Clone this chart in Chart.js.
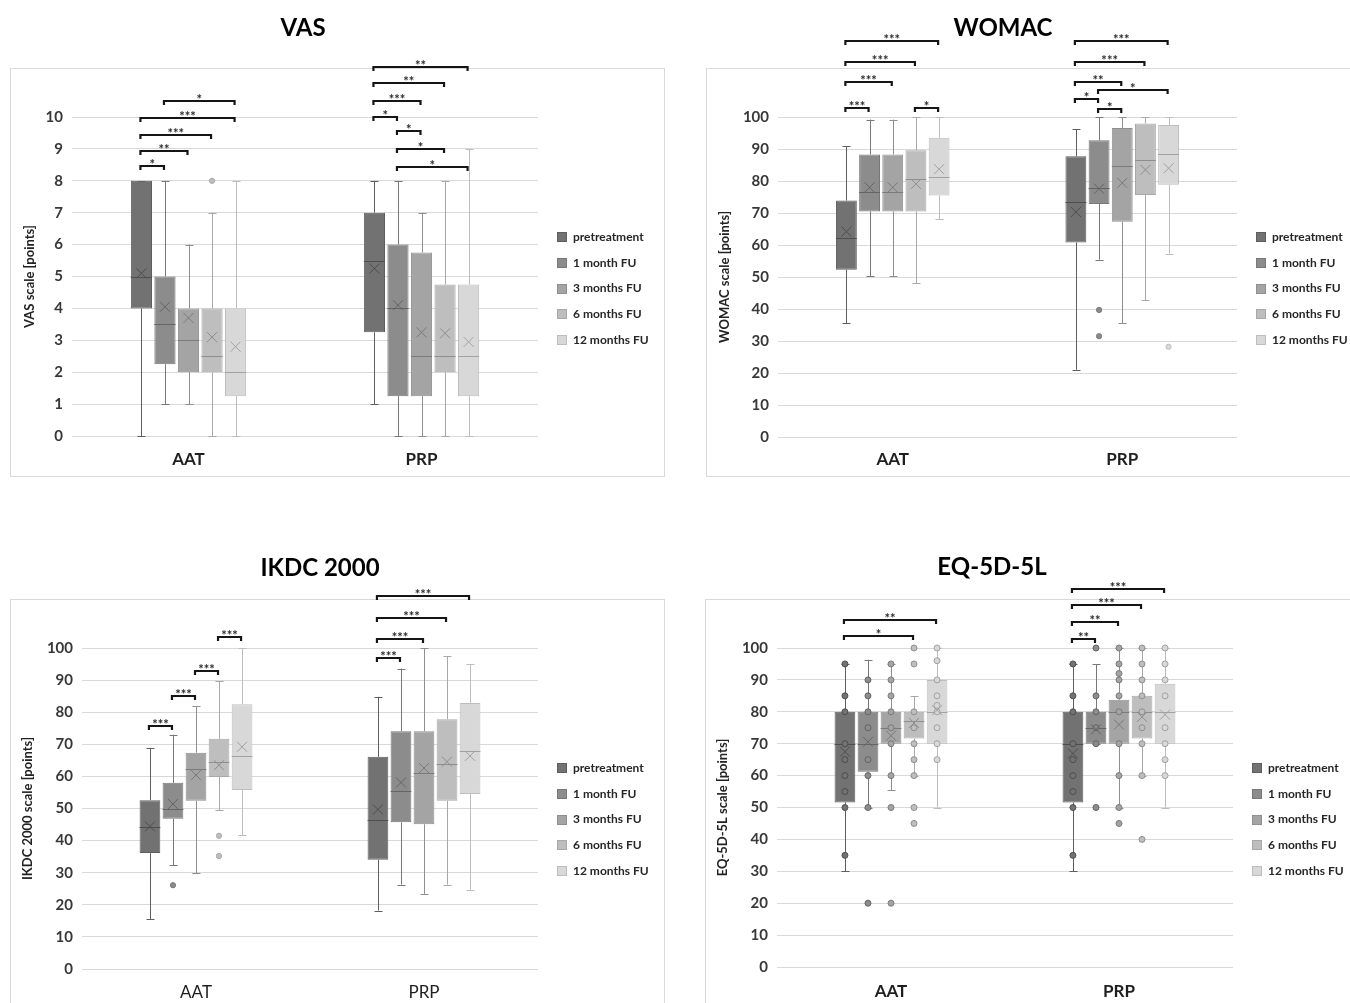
<!DOCTYPE html>
<html><head><meta charset="utf-8">
<script src="https://cdn.jsdelivr.net/npm/chart.js@4.4.1/dist/chart.umd.min.js"></script>
<style>
body{margin:0;background:#fff;width:1350px;height:1003px;overflow:hidden;position:relative;font-family:Lato,sans-serif}
.frame{position:absolute;border:1px solid #d9d9d9;box-sizing:border-box}
canvas{position:absolute}
</style></head><body>
<div class="frame" style="left:10px;top:68px;width:655px;height:409px"></div>
<div class="frame" style="left:706px;top:68px;width:700px;height:409px"></div>
<div class="frame" style="left:10px;top:599px;width:655px;height:500px"></div>
<div class="frame" style="left:705px;top:599px;width:700px;height:500px"></div>
<canvas id="c1" width="675" height="490" style="left:0;top:0"></canvas>
<canvas id="c2" width="675" height="490" style="left:675px;top:0"></canvas>
<canvas id="c3" width="675" height="473" style="left:0;top:530px"></canvas>
<canvas id="c4" width="675" height="473" style="left:675px;top:530px"></canvas>
<script>
const groups = ['AAT', 'PRP'];
const seriesNames = ['pretreatment', '1 month FU', '3 months FU', '6 months FU', '12 months FU'];

// rows per series: [min, Q1, median, Q3, max, mean]
const vasAAT = [[0,4,5,8,8,5.1],[1,2.25,3.5,5,8,4.05],[1,2,3,4,6,3.7],[0,2,2.5,4,7,3.1],[0,1.25,2,4,8,2.8]];
const vasPRP = [[1,3.25,5.5,7,8,5.25],[0,1.25,4,6,8,4.1],[0,1.25,2.5,5.75,7,3.25],[0,2,2.5,4.75,8,3.22],[0,1.25,2.5,4.75,9,2.95]];
const vasOutAAT = [[],[],[],[8],[]];
const vasOutPRP = [[],[],[],[],[]];
// [group, fromSeries, toSeries, level (scale units), label]
const vasBrackets = [[0,0,1,8.46,'*'],[0,0,2,8.92,'**'],[0,0,3,9.44,'***'],[0,0,4,9.98,'***'],[0,1,4,10.51,'*'],
  [1,0,4,11.58,'**'],[1,0,3,11.06,'**'],[1,0,2,10.51,'***'],[1,0,1,10.01,'*'],[1,1,2,9.57,'*'],[1,1,3,9.0,'*'],[1,1,4,8.43,'*']];

const womacAAT = [[35.6,52.3,62.1,73.9,90.9,64.2],[50.2,70.5,76.5,88.3,99.2,78.0],[50.2,70.5,76.5,88.3,99.2,78.0],[48.1,70.5,80.7,89.6,100,79.1],[68.0,75.5,81.2,93.5,100,83.7]];
const womacPRP = [[21.0,60.8,73.4,87.7,96.1,70.3],[55.4,72.8,77.8,92.7,100,77.6],[35.6,67.3,84.6,96.6,100,79.4],[42.8,75.6,86.6,98.0,100,83.5],[57.3,78.8,88.5,97.5,100,84.0]];
const womacOutAAT = [[],[],[],[],[]];
const womacOutPRP = [[],[39.7,31.5],[],[],[28.2]];
const womacBrackets = [[0,0,1,102.7,'***'],[0,0,2,111.0,'***'],[0,0,3,117.2,'***'],[0,0,4,123.8,'***'],[0,3,4,102.7,'*'],
  [1,0,4,123.8,'***'],[1,0,3,117.2,'***'],[1,0,2,111.0,'**'],[1,0,1,105.5,'*'],[1,1,4,108.4,'*'],[1,1,2,102.6,'*']];

const ikdcAAT = [[15.6,36.1,44.1,52.6,68.9,44.4],[32.4,46.8,49.9,58.0,73.0,51.4],[29.8,52.4,62.4,67.4,81.9,60.4],[49.5,59.8,64.6,71.7,89.6,63.5],[41.7,55.8,66.4,82.5,100,69.2]];
const ikdcPRP = [[18.2,34.0,46.4,66.1,84.8,49.7],[26.3,45.7,55.4,74.1,93.6,58.1],[23.4,45.1,61.1,74.1,100,62.6],[26.3,52.4,64.0,77.8,97.5,64.6],[24.7,54.5,67.9,82.9,94.9,66.4]];
const ikdcOutAAT = [[],[26.1],[],[41.5,35.2],[]];
const ikdcOutPRP = [[],[],[],[],[]];
const ikdcBrackets = [[0,0,1,75.7,'***'],[0,1,2,85.1,'***'],[0,2,3,92.9,'***'],[0,3,4,103.4,'***'],
  [1,0,1,96.9,'***'],[1,0,2,102.9,'***'],[1,0,3,109.4,'***'],[1,0,4,116.1,'***']];

const eqAAT = [[30,51.6,70,80,95,67.5],[50,61.2,70,80,96.3,70.6],[55.5,70,75,80,95,72.5],[60,71.6,77,80,85,76.5],[50,70,80,90,100,80.5]];
const eqPRP = [[30,51.6,70,80,95,66.9],[70,70,75,80,95,74.5],[50,70,80,83.8,100,76],[60,71.6,80,85,100,78.4],[50,70,80,88.8,100,79.1]];
const eqPtsAAT = [[95,85,80,70,65,60,55,50,35],[90,85,80,75,65,60,50,20],[95,90,85,80,75,70,60,50,20],[100,95,80,75,70,65,60,50,45],[100,96,90,85,82,80,75,70,65]];
const eqPtsPRP = [[95,85,80,70,65,60,55,50,35],[100,85,80,75,70,50],[100,95,92,90,85,80,70,60,50,45],[100,95,90,85,80,75,70,60,40],[100,95,90,85,75,70,65,60]];
const eqBrackets = [[0,0,3,103.7,'*'],[0,0,4,108.9,'**'],
  [1,0,1,102.9,'**'],[1,0,2,108.1,'**'],[1,0,3,113.5,'***'],[1,0,4,118.5,'***']];

const fills   = ['#727272','#8c8c8c','#a4a4a4','#bebebe','#d8d8d8'];
const borders = ['#5e5e5e','#787878','#8f8f8f','#a8a8a8','#bdbdbd'];
const marks   = ['#4e4e4e','#646464','#7a7a7a','#8e8e8e','#a2a2a2'];

const panels = [
  {id:'c1', title:'VAS', yTitle:'VAS scale [points]', max:10, step:1, stats:[vasAAT,vasPRP], outl:[vasOutAAT,vasOutPRP], pts:null, brackets:vasBrackets,
   L:{w:675,h:490,l:72,r:538,t:117,b:436}, titleX:303, titleY:28, axisX:30, catWeight:'bold', catPad:5},
  {id:'c2', title:'WOMAC', yTitle:'WOMAC scale [points]', max:100, step:10, stats:[womacAAT,womacPRP], outl:[womacOutAAT,womacOutPRP], pts:null, brackets:womacBrackets,
   L:{w:675,h:490,l:103,r:562,t:117,b:437}, titleX:328, titleY:28, axisX:50, catWeight:'bold', catPad:4},
  {id:'c3', title:'IKDC 2000', yTitle:'IKDC 2000 scale [points]', max:100, step:10, stats:[ikdcAAT,ikdcPRP], outl:[ikdcOutAAT,ikdcOutPRP], pts:null, brackets:ikdcBrackets,
   L:{w:675,h:473,l:82,r:538,t:118,b:439}, titleX:320, titleY:38, axisX:28, catWeight:'normal', catPad:5},
  {id:'c4', title:'EQ-5D-5L', yTitle:'EQ-5D-5L scale [points]', max:100, step:10, stats:[eqAAT,eqPRP], outl:null, pts:[eqPtsAAT,eqPtsPRP], brackets:eqBrackets,
   L:{w:675,h:473,l:102,r:558,t:118,b:437}, titleX:317, titleY:37, axisX:48, catWeight:'bold', catPad:6}
];

function makeChart(cfg) {
  const L = cfg.L;
  const xH = L.h - L.b;
  const elAt = (chart, s, g) => chart.getDatasetMeta(s).data[g];
  const plugin = {
    id: 'boxParts_' + cfg.id,
    beforeDatasetsDraw(chart) {
      const ctx = chart.ctx, y = chart.scales.y;
      ctx.save();
      ctx.lineWidth = 1;
      cfg.stats.forEach((rows, g) => rows.forEach((r, s) => {
        const el = elAt(chart, s, g);
        const x = Math.round(el.x) + 0.5;
        ctx.strokeStyle = borders[s];
        ctx.beginPath();
        ctx.moveTo(x, y.getPixelForValue(r[0])); ctx.lineTo(x, y.getPixelForValue(r[1]));
        ctx.moveTo(x, y.getPixelForValue(r[3])); ctx.lineTo(x, y.getPixelForValue(r[4]));
        const pmin = Math.round(y.getPixelForValue(r[0])) + 0.5, pmax = Math.round(y.getPixelForValue(r[4])) + 0.5;
        ctx.moveTo(x - 4, pmin); ctx.lineTo(x + 4, pmin);
        ctx.moveTo(x - 4, pmax); ctx.lineTo(x + 4, pmax);
        ctx.stroke();
      }));
      ctx.restore();
    },
    afterDatasetsDraw(chart) {
      const ctx = chart.ctx, y = chart.scales.y;
      ctx.save();
      ctx.lineWidth = 1;
      cfg.stats.forEach((rows, g) => rows.forEach((r, s) => {
        const el = elAt(chart, s, g);
        const x = el.x, hw = el.width / 2;
        ctx.strokeStyle = marks[s];
        const pm = Math.round(y.getPixelForValue(r[2])) + 0.5;
        ctx.beginPath(); ctx.moveTo(x - hw, pm); ctx.lineTo(x + hw, pm); ctx.stroke();
        const list = cfg.pts ? cfg.pts[g][s] : cfg.outl[g][s];
        list.forEach(v => {
          ctx.beginPath();
          ctx.arc(x, y.getPixelForValue(v), cfg.pts ? 3 : 2.6, 0, Math.PI * 2);
          ctx.fillStyle = fills[s]; ctx.fill();
          ctx.strokeStyle = cfg.pts ? marks[s] : borders[s]; ctx.stroke();
        });
        const py = y.getPixelForValue(r[5]), d = 5;
        ctx.strokeStyle = marks[s];
        ctx.beginPath();
        ctx.moveTo(x - d, py - d); ctx.lineTo(x + d, py + d);
        ctx.moveTo(x + d, py - d); ctx.lineTo(x - d, py + d);
        ctx.stroke();
      }));
      ctx.restore();
    },
    afterDraw(chart) {
      const ctx = chart.ctx, y = chart.scales.y, a = chart.chartArea;
      ctx.save();
      ctx.strokeStyle = '#151515'; ctx.lineWidth = 2.2; ctx.lineCap = 'butt';
      ctx.fillStyle = '#2a2a2a'; ctx.font = 'bold 13px Lato'; ctx.textAlign = 'center'; ctx.textBaseline = 'alphabetic';
      cfg.brackets.forEach(([g, s1, s2, lv, lab]) => {
        const x1 = elAt(chart, s1, g).x - 1, x2 = elAt(chart, s2, g).x - 1;
        const py = Math.round(y.getPixelForValue(lv));
        ctx.beginPath();
        ctx.moveTo(x1, py + 4); ctx.lineTo(x1, py); ctx.lineTo(x2, py); ctx.lineTo(x2, py + 4);
        ctx.stroke();
        ctx.fillText(lab, (x1 + x2) / 2, py + 3);
      });
      ctx.fillStyle = '#000'; ctx.font = 'bold 24px Lato'; ctx.textBaseline = 'middle';
      ctx.fillText(cfg.title, cfg.titleX, cfg.titleY);
      const lx = a.right + 19;
      ctx.font = 'bold 12px Lato'; ctx.textAlign = 'left'; ctx.lineWidth = 1;
      seriesNames.forEach((n, s) => {
        const cy = a.top + 120 + s * 25.8;
        ctx.fillStyle = fills[s]; ctx.fillRect(lx, Math.round(cy - 5), 10, 10);
        ctx.strokeStyle = borders[s]; ctx.strokeRect(lx + 0.5, Math.round(cy - 5) + 0.5, 9, 9);
        ctx.fillStyle = '#262626'; ctx.fillText(n, lx + 16, cy);
      });
      ctx.restore();
    }
  };
  return new Chart(document.getElementById(cfg.id), {
    type: 'bar',
    data: {
      labels: groups,
      datasets: seriesNames.map((name, s) => ({
        label: name,
        data: groups.map((gn, g) => [cfg.stats[g][s][1], cfg.stats[g][s][3]]),
        backgroundColor: fills[s], borderColor: borders[s], borderWidth: 1, borderSkipped: false,
        categoryPercentage: 0.505, barPercentage: 0.9
      }))
    },
    options: {
      responsive: false, animation: false, devicePixelRatio: 1,
      layout: {padding: {left: 0, top: L.t, right: L.w - L.r, bottom: 0}},
      plugins: {legend: {display: false}, tooltip: {enabled: false}, title: {display: false}},
      scales: {
        x: {
          grid: {display: false}, border: {display: false},
          ticks: {font: {family: 'Lato', size: 17, weight: cfg.catWeight}, color: '#1f1f1f', padding: cfg.catPad},
          afterFit: s => { s.height = xH; }
        },
        y: {
          min: 0, max: cfg.max,
          ticks: {stepSize: cfg.step, font: {family: 'Lato', size: 15, weight: 'bold'}, color: '#383838', padding: 9},
          grid: {color: '#d9d9d9', drawTicks: false}, border: {display: false},
          title: {display: true, text: cfg.yTitle, font: {family: 'Lato', size: 13, weight: 'bold'}, color: '#222', padding: {top: cfg.axisX - 7.8, bottom: 0}},
          afterFit: s => { s.width = L.l; }
        }
      }
    },
    plugins: [plugin]
  });
}

function build() { panels.forEach(makeChart); }
if (document.fonts && document.fonts.load) {
  Promise.all([document.fonts.load('bold 14px Lato'), document.fonts.load('14px Lato')]).then(build, build);
} else build();
</script>
</body></html>
